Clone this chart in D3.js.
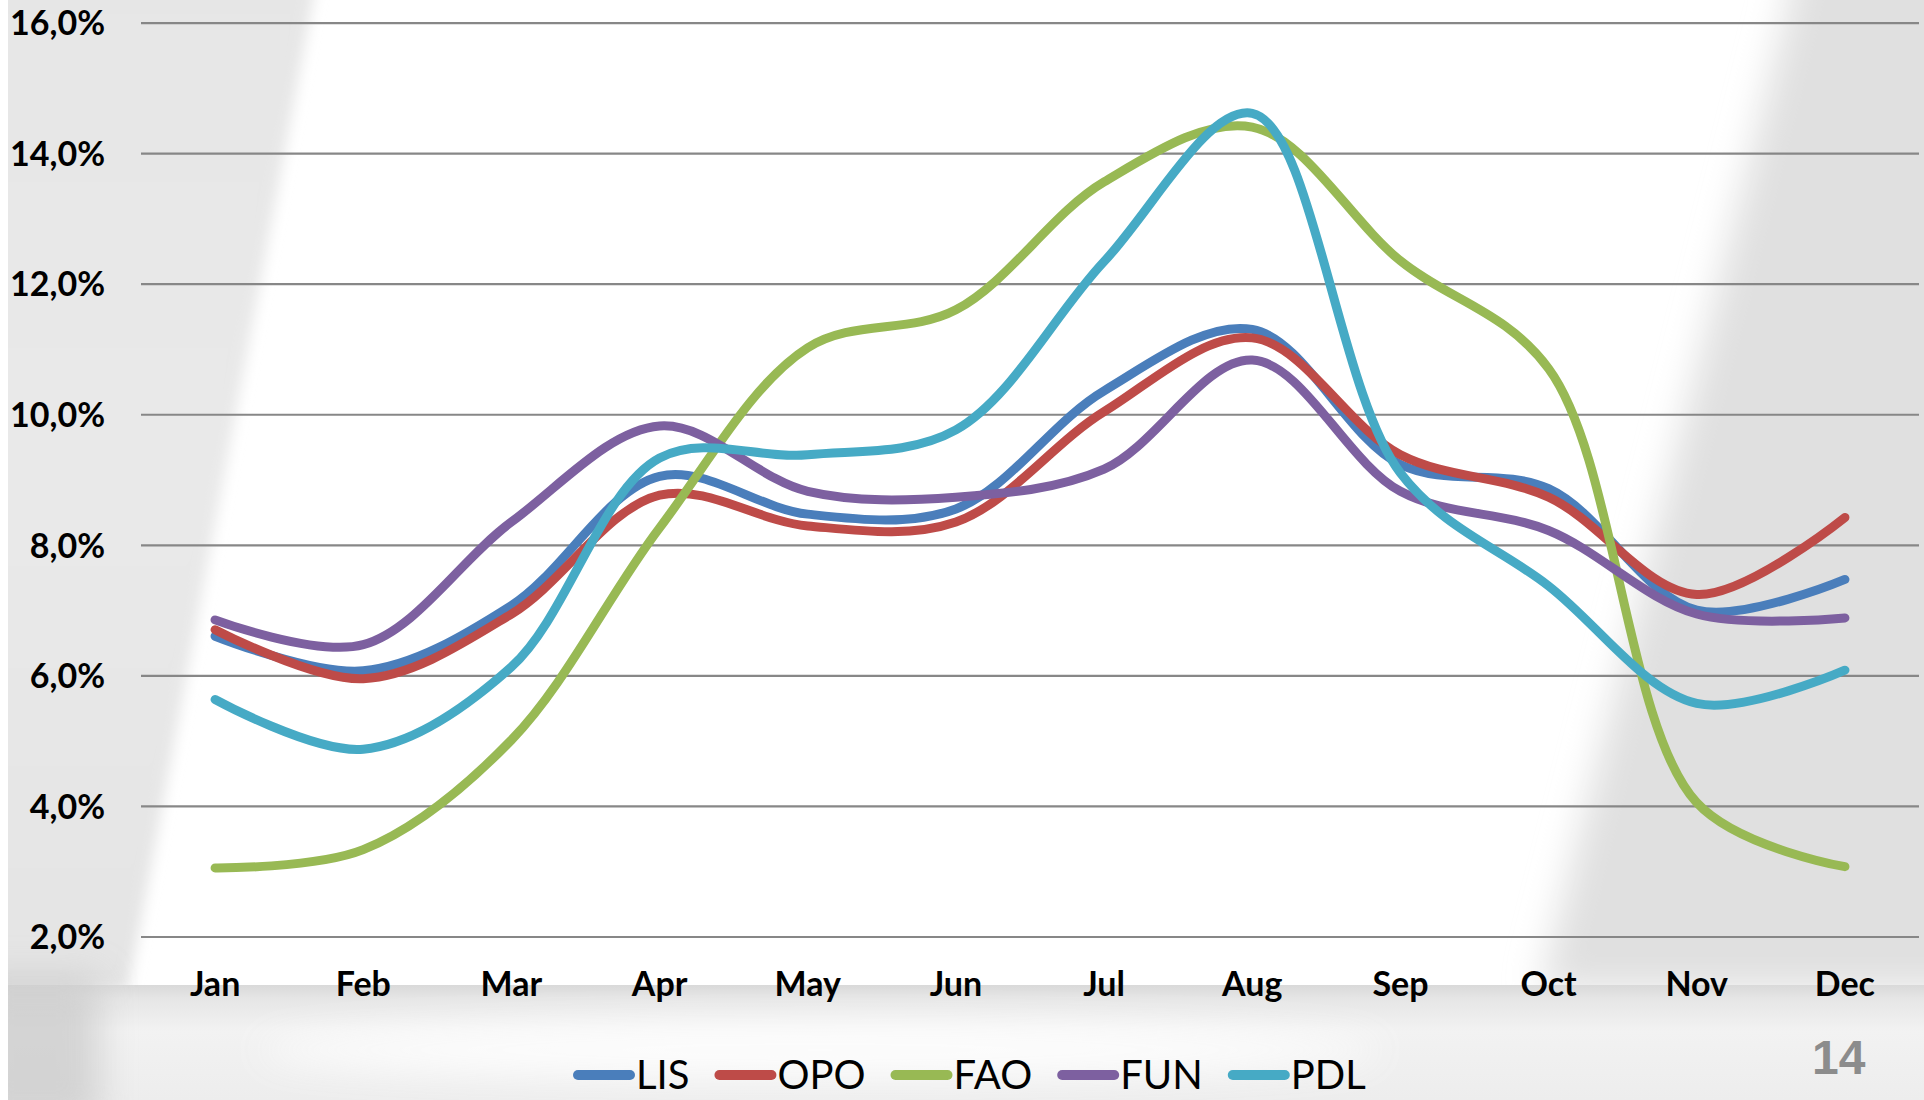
<!DOCTYPE html>
<html>
<head>
<meta charset="utf-8">
<script src="https://cdn.jsdelivr.net/npm/d3@7"></script>
<style>
  html, body { margin: 0; padding: 0; background: #ffffff; }
  svg { display: block; }
</style>
</head>
<body>
<svg id="chart" width="1924" height="1100"></svg>
<script>
// Monthly share of annual passengers per airport
const months = ["Jan", "Feb", "Mar", "Apr", "May", "Jun", "Jul", "Aug", "Sep", "Oct", "Nov", "Dec"];
const seriesNames = ["LIS", "OPO", "FAO", "FUN", "PDL"];
const seriesColors = ["#4A7EBB", "#BE4B48", "#98B954", "#7D60A0", "#46AAC5"];
const LIS = [6.60, 6.07, 7.07, 9.05, 8.47, 8.55, 10.36, 11.30, 9.23, 8.86, 7.00, 7.47];
const OPO = [6.70, 5.95, 6.94, 8.76, 8.29, 8.35, 10.04, 11.17, 9.38, 8.73, 7.24, 8.42];
const FAO = [3.05, 3.33, 5.01, 8.26, 11.02, 11.60, 13.56, 14.40, 12.35, 10.70, 4.05, 3.07];
const FUN = [6.85, 6.47, 8.35, 9.82, 8.82, 8.73, 9.16, 10.83, 8.82, 8.22, 6.94, 6.88];
const PDL = [5.63, 4.87, 6.13, 9.33, 9.38, 9.76, 12.34, 14.61, 9.10, 7.37, 5.57, 6.08];
const yTicks = [2, 4, 6, 8, 10, 12, 14, 16];
const pageNumber = "14";

const seriesValues = [LIS, OPO, FAO, FUN, PDL];
const series = seriesNames.map((name, i) => ({ name, color: seriesColors[i], values: seriesValues[i] }));

const svg = d3.select("#chart");
const W = 1924, H = 1100;

// ---- slide background ----
const defs = svg.append("defs");
defs.append("filter").attr("id", "softL").attr("x", "-20%").attr("y", "-20%").attr("width", "140%").attr("height", "140%")
  .append("feGaussianBlur").attr("stdDeviation", 7);
defs.append("filter").attr("id", "softR").attr("x", "-30%").attr("y", "-20%").attr("width", "160%").attr("height", "140%")
  .append("feGaussianBlur").attr("stdDeviation", 18);
defs.append("filter").attr("id", "glow").attr("x", "-30%").attr("y", "-100%").attr("width", "160%").attr("height", "300%")
  .append("feGaussianBlur").attr("stdDeviation", 18);

const band = defs.append("linearGradient").attr("id", "bandGrad").attr("x1", 0).attr("y1", 0).attr("x2", 0).attr("y2", 1);
[[0, "#d9d9d9"], [0.12, "#e6e6e6"], [0.4, "#f2f2f2"], [1, "#ededed"]]
  .forEach(([o, c]) => band.append("stop").attr("offset", o).attr("stop-color", c));

const leftGrad = defs.append("linearGradient").attr("id", "leftGrad").attr("x1", 0).attr("y1", 0).attr("x2", 0).attr("y2", 1);
[[0, "#e6e6e6"], [0.5, "#e9e9e9"], [1, "#e4e4e4"]]
  .forEach(([o, c]) => leftGrad.append("stop").attr("offset", o).attr("stop-color", c));

const bg = svg.append("g");
bg.append("rect").attr("width", W).attr("height", H).attr("fill", "#ffffff");
bg.append("path").attr("d", "M-40,-20 L316,-20 L313,0 L128,990 L-40,990 Z")
  .attr("fill", "url(#leftGrad)").attr("filter", "url(#softL)");
bg.append("path").attr("d", "M1792,-40 L1980,-40 L1980,990 L1540,990 L1790,0 Z")
  .attr("fill", "#e0e0e0").attr("filter", "url(#softR)");
bg.append("rect").attr("x", 0).attr("y", 985).attr("width", W).attr("height", H - 985).attr("fill", "url(#bandGrad)");
bg.append("ellipse").attr("cx", 820).attr("cy", 1050).attr("rx", 560).attr("ry", 28)
  .attr("fill", "#ffffff").attr("opacity", 0.85).attr("filter", "url(#glow)");
bg.append("rect").attr("x", -30).attr("y", 975).attr("width", 130).attr("height", 150)
  .attr("fill", "#c8c8c8").attr("opacity", 0.7).attr("filter", "url(#glow)");
bg.append("rect").attr("x", 0).attr("y", 0).attr("width", 8).attr("height", H).attr("fill", "#ffffff");

// ---- scales ----
const x = d3.scaleBand().domain(months).range([141, 1919]);
const xc = m => x(m) + x.bandwidth() / 2;
const y = d3.scaleLinear().domain([2, 16]).range([936.5, 22.6]);

const fmt = d => d.toFixed(1).replace(".", ",") + "%";

// ---- gridlines ----
const grid = svg.append("g").attr("transform", "translate(141,0)")
  .call(d3.axisLeft(y).tickValues(yTicks).tickSize(-(1919 - 141)).tickFormat(""));
grid.select(".domain").remove();
grid.selectAll(".tick line").attr("stroke", "#878787").attr("stroke-width", 2.2);

// ---- y axis labels ----
const yAxis = svg.append("g").attr("transform", "translate(141,0)")
  .call(d3.axisLeft(y).tickValues(yTicks).tickSize(0).tickPadding(36).tickFormat(fmt));
yAxis.select(".domain").remove();
yAxis.selectAll("text")
  .attr("font-family", "Lato, 'Open Sans', sans-serif").attr("font-weight", 700)
  .attr("font-size", 34).attr("fill", "#000").attr("dy", "0.36em");

// ---- x axis labels ----
const xAxis = svg.append("g").attr("transform", "translate(0,936.5)")
  .call(d3.axisBottom(x).tickSize(0).tickPadding(0));
xAxis.select(".domain").remove();
xAxis.selectAll("text")
  .attr("font-family", "Lato, 'Open Sans', sans-serif").attr("font-weight", 700)
  .attr("font-size", 34).attr("fill", "#000").attr("y", 59.5).attr("dy", 0);

// ---- lines (smoothed through every monthly value) ----
const line = d3.line()
  .x((d, i) => xc(months[i]))
  .y(d => y(d))
  .curve(d3.curveCatmullRom.alpha(0.5));

svg.append("g").selectAll("path").data(series).join("path")
  .attr("d", d => line(d.values))
  .attr("fill", "none")
  .attr("stroke", d => d.color)
  .attr("stroke-width", 9)
  .attr("stroke-linecap", "round")
  .attr("stroke-linejoin", "round");

// ---- legend ----
const legend = svg.append("g");
let lx = 578;
series.forEach(s => {
  legend.append("line")
    .attr("x1", lx).attr("x2", lx + 52).attr("y1", 1075).attr("y2", 1075)
    .attr("stroke", s.color).attr("stroke-width", 10).attr("stroke-linecap", "round");
  const t = legend.append("text")
    .attr("x", lx + 58).attr("y", 1089)
    .attr("font-family", "Lato, 'Open Sans', sans-serif").attr("font-size", 40)
    .attr("fill", "#000").text(s.name);
  lx += 58 + t.node().getComputedTextLength() + 30;
});

// ---- slide number ----
svg.append("text").attr("x", 1812).attr("y", 1074)
  .attr("font-family", "'Liberation Sans', Arial, sans-serif").attr("font-weight", 700)
  .attr("font-size", 48).attr("fill", "#8c8c8c").text(pageNumber);
</script>
</body>
</html>
